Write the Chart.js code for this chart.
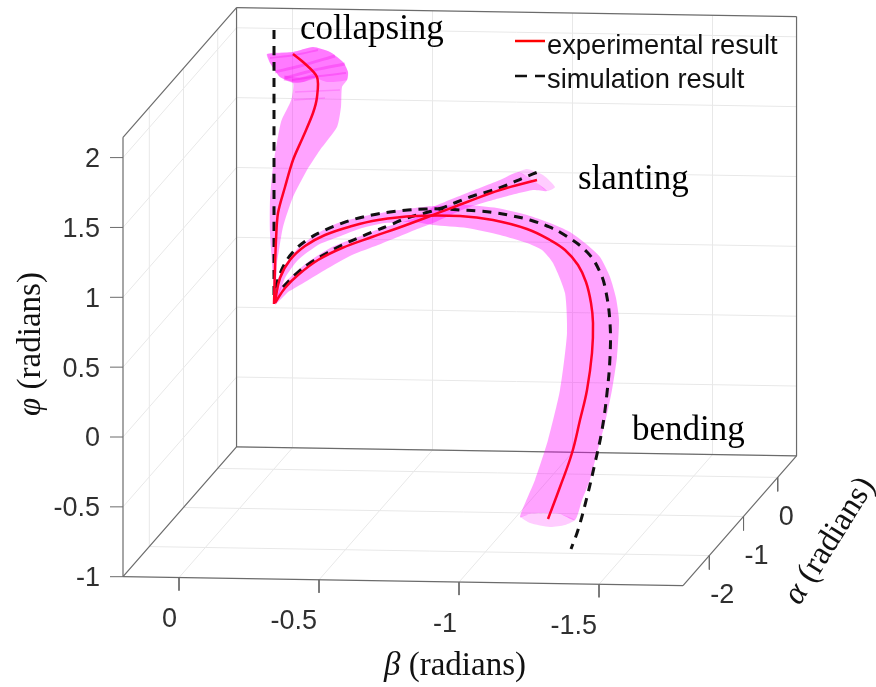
<!DOCTYPE html>
<html>
<head>
<meta charset="utf-8">
<style>
html, body { margin: 0; padding: 0; background: #fff; }
canvas { display: block; }
</style>
<script src="https://cdn.jsdelivr.net/npm/chart.js@4/dist/chart.umd.min.js"></script>
</head>
<body>
<canvas id="chart" width="876" height="687"></canvas>
<script>
// axis ticks in radians
const betaTicks = [0, -0.5, -1, -1.5];
const alphaTicks = [-2, -1, 0];
const phiTicks = [-1, -0.5, 0, 0.5, 1, 1.5, 2];
const betaRange = [0.2, -1.8];
const alphaRange = [-2.77, 0.55];
const phiRange = [-1, 2.145];

// curves, in view plane units (x right, y down)
const bendExpX = [275, 280, 290, 305, 325, 352, 378, 415, 460, 493, 527, 550, 565, 578, 586, 591, 593, 592, 587, 580, 572, 560, 548];
const bendExpY = [302, 278, 260, 246, 235, 226, 220, 216, 216, 220, 229, 240, 250, 265, 282, 303, 323, 353, 390, 420, 453, 487, 519];
const bendSimX = [275, 283, 293, 307, 323, 340, 355, 372, 390, 408, 425, 443, 460, 478, 497, 513, 530, 547, 563, 587, 600, 606, 610, 610, 607, 602, 595, 587, 578, 571];
const bendSimY = [288, 267, 252, 240, 231, 224, 219, 215, 212, 210, 209, 209, 210, 211, 213, 216, 220, 226, 234, 252, 272, 292, 323, 357, 393, 430, 463, 497, 530, 549];
const bendBandX = [275, 285, 298, 318, 338, 365, 392, 415, 433, 467, 497, 527, 550, 570, 585, 600, 610, 616, 619, 617, 612, 605, 597, 590, 582, 575, 560, 547, 530, 520, 535, 548, 560, 567, 565, 553, 542, 527, 500, 467, 433, 415, 385, 362, 338, 318, 298, 285, 277];
const bendBandY = [285, 265, 248, 233, 223, 216, 211, 208, 206, 205, 208, 215, 223, 232, 243, 257, 277, 298, 320, 357, 390, 423, 453, 480, 500, 520, 514, 513, 514, 517, 480, 440, 390, 333, 293, 263, 250, 243, 235, 228, 225, 222, 223, 228, 237, 245, 260, 278, 302];
const bendCapX = [520, 530, 550, 565, 575, 560, 547, 530];
const bendCapY = [517, 523, 527, 525, 520, 514, 513, 514];

const slantExpX = [275, 285, 298, 318, 342, 372, 398, 433, 467, 500, 537];
const slantExpY = [303, 288, 275, 260, 248, 237, 228, 215, 202, 190, 180];
const slantSimX = [283, 297, 310, 327, 342, 358, 375, 390, 407, 425, 442, 457, 473, 490, 507, 523, 543];
const slantSimY = [287, 273, 263, 253, 245, 238, 231, 225, 218, 213, 208, 202, 196, 191, 185, 178, 170];
const slantBandX = [275, 280, 295, 308, 332, 358, 382, 415, 433, 467, 500, 518, 528, 537, 547, 533, 500, 467, 433, 415, 378, 352, 325, 305, 288];
const slantBandY = [305, 288, 273, 262, 247, 237, 228, 218, 207, 193, 180, 172, 177, 183, 191, 190, 198, 208, 223, 230, 245, 255, 270, 282, 292];
const slantCapX = [518, 527, 543, 555, 547, 537, 528];
const slantCapY = [172, 169, 175, 187, 191, 183, 177];

const collapseExpX = [293, 303, 317, 317, 313, 303, 293, 285, 278, 276, 275, 274];
const collapseExpY = [54, 62, 77, 97, 113, 137, 160, 187, 213, 240, 267, 304];
const collapseSimX = [274, 274, 274, 274, 274];
const collapseSimY = [30, 100, 180, 250, 300];
const collapseBandX = [275, 270, 270, 273, 281, 290, 292, 293, 280, 270, 267, 293, 313, 330, 343, 348, 347, 342, 341, 337, 320, 307, 293, 283, 277];
const collapseBandY = [304, 233, 200, 167, 122, 103, 97, 83, 77, 63, 54, 52, 47, 52, 62, 72, 80, 87, 107, 127, 150, 170, 197, 227, 263];
const collapseHeadX = [267, 293, 313, 330, 343, 348, 347, 327, 315, 303, 293, 280, 270];
const collapseHeadY = [54, 52, 47, 52, 62, 72, 80, 82, 78, 82, 83, 77, 63];
const streakAX = [275, 300, 335];
const streakAY = [72, 66, 56];
const streakBX = [285, 315, 345];
const streakBY = [78, 70, 64];
const streakCX = [292, 320, 346];
const streakCY = [80, 76, 73];
const streakDX = [270, 295, 318];
const streakDY = [58, 55, 50];
const streakEX = [284, 300, 315];
const streakEY = [78, 80, 76];
const streakFX = [295, 318, 340];
const streakFY = [92, 91, 90];
const streakGX = [294, 310, 325];
const streakGY = [100, 99, 98];

// legend samples
const legendExpX = [515, 545];
const legendExpY = [41, 41];
const legendSimX = [515, 545];
const legendSimY = [76, 76];

function project(beta, alpha, phi) {
    return {
        x: 179 - 280 * beta + 34.2 * (alpha - alphaRange[0]),
        y: 577.6 - 4.5 * beta - 39.1 * (alpha - alphaRange[0]) - 139.7 * (phi + 1)
    };
}

function toPoints(xs, ys) {
    return xs.map((x, i) => ({ x: x, y: ys[i] }));
}

const datasets = [];

function addLine(points, color, width, extra) {
    datasets.push(Object.assign({
        data: points, borderColor: color, borderWidth: width, showLine: true,
        pointRadius: 0, fill: false, tension: 0
    }, extra || {}));
}

function addBand(xs, ys, color) {
    addLine(toPoints(xs, ys), 'rgba(0,0,0,0)', 0, { backgroundColor: color, fill: 'shape', tension: 0.2 });
}

const gridColor = '#e8e8e8';
const boxColor = '#6b6b6b';
const [bMin, bMax] = betaRange;
const [aMin, aMax] = alphaRange;
const [pMin, pMax] = phiRange;

// grid on the back wall, left wall and floor
betaTicks.forEach(b => {
    addLine([project(b, aMax, pMin), project(b, aMax, pMax)], gridColor, 1);
    addLine([project(b, aMin, pMin), project(b, aMax, pMin)], gridColor, 1);
});
alphaTicks.forEach(a => {
    addLine([project(bMin, a, pMin), project(bMin, a, pMax)], gridColor, 1);
    addLine([project(bMin, a, pMin), project(bMax, a, pMin)], gridColor, 1);
});
phiTicks.forEach(p => {
    addLine([project(bMin, aMax, p), project(bMax, aMax, p)], gridColor, 1);
    addLine([project(bMin, aMin, p), project(bMin, aMax, p)], gridColor, 1);
});

// box outline
[
    [[bMin, aMin, pMin], [bMin, aMin, pMax]],
    [[bMin, aMax, pMin], [bMin, aMax, pMax]],
    [[bMax, aMax, pMin], [bMax, aMax, pMax]],
    [[bMin, aMax, pMax], [bMax, aMax, pMax]],
    [[bMin, aMin, pMax], [bMin, aMax, pMax]],
    [[bMin, aMax, pMin], [bMax, aMax, pMin]],
    [[bMin, aMin, pMin], [bMax, aMin, pMin]],
    [[bMin, aMin, pMin], [bMin, aMax, pMin]],
    [[bMax, aMin, pMin], [bMax, aMax, pMin]]
].forEach(e => addLine([project(...e[0]), project(...e[1])], boxColor, 1.2));

// tick marks
phiTicks.forEach(p => {
    const t = project(bMin, aMin, p);
    addLine([t, { x: t.x - 13, y: t.y }], boxColor, 1);
});
betaTicks.forEach(b => {
    const t = project(b, aMin, pMin);
    addLine([t, { x: t.x, y: t.y + 13 }], boxColor, 1);
});
alphaTicks.forEach(a => {
    const t = project(bMax, a, pMin);
    addLine([t, { x: t.x, y: t.y + 14 }], boxColor, 1);
});

// magenta bands
const bandColor = 'rgba(255,0,255,0.36)';
const capColor = 'rgba(255,0,255,0.2)';
addBand(bendBandX, bendBandY, bandColor);
addBand(slantBandX, slantBandY, bandColor);
addBand(collapseBandX, collapseBandY, bandColor);
addBand(collapseHeadX, collapseHeadY, 'rgba(255,0,255,0.25)');
addBand(bendCapX, bendCapY, capColor);
addBand(slantCapX, slantCapY, capColor);
[[streakAX, streakAY, 3], [streakBX, streakBY, 3], [streakCX, streakCY, 2], [streakDX, streakDY, 2], [streakEX, streakEY, 5]].forEach(s => {
    addLine(toPoints(s[0], s[1]), 'rgba(245,0,235,0.28)', s[2], { tension: 0.3 });
});
[[streakFX, streakFY], [streakGX, streakGY]].forEach(s => {
    addLine(toPoints(s[0], s[1]), 'rgba(245,0,235,0.2)', 1.5, { tension: 0.3 });
});

// mean curves
const expColor = '#ff0028';
const simDash = { borderDash: [9, 7], tension: 0.4 };
addLine(toPoints(collapseSimX, collapseSimY), '#111', 3, simDash);
addLine(toPoints(bendSimX, bendSimY), '#111', 3, simDash);
addLine(toPoints(slantSimX, slantSimY), '#111', 3, simDash);
addLine(toPoints(bendExpX, bendExpY), expColor, 2.5, { tension: 0.4 });
addLine(toPoints(slantExpX, slantExpY), expColor, 2.5, { tension: 0.4 });
addLine(toPoints(collapseExpX, collapseExpY), expColor, 2.5, { tension: 0.3 });

// legend samples
addLine(toPoints(legendExpX, legendExpY), '#ff0000', 2.5);
addLine(toPoints(legendSimX, legendSimY), '#111', 2.5, { borderDash: [12, 8] });

datasets.forEach((d, i) => { d.order = datasets.length - i; });

const tickFont = '27px "Liberation Sans"';
const tickColor = '#303030';

// tick labels, annotations and axis titles
const textPlugin = {
    id: 'chartText',
    afterDatasetsDraw(chart) {
        const ctx = chart.ctx;
        const sx = chart.scales.x;
        const sy = chart.scales.y;
        const put = (text, x, y, font, color, align) => {
            ctx.font = font;
            ctx.fillStyle = color;
            ctx.textAlign = align || 'left';
            ctx.textBaseline = 'middle';
            ctx.fillText(text, sx.getPixelForValue(x), sy.getPixelForValue(y));
        };
        ctx.save();
        phiTicks.forEach(p => {
            const t = project(bMin, aMin, p);
            put(String(p), t.x - 23, t.y + 2, tickFont, tickColor, 'right');
        });
        betaTicks.forEach(b => {
            const t = project(b, aMin, pMin);
            put(String(b), t.x - 2, t.y + 42, tickFont, tickColor, 'right');
        });
        alphaTicks.forEach(a => {
            const t = project(bMax, a, pMin);
            put(String(a), t.x + 1, t.y + 40, tickFont, tickColor, 'left');
        });

        put('collapsing', 300, 30, '35px "Liberation Serif"', '#000');
        put('slanting', 578, 180, '35px "Liberation Serif"', '#000');
        put('bending', 632, 431, '35px "Liberation Serif"', '#000');
        put('experimental result', 547, 46, '27.3px "Liberation Sans"', '#111');
        put('simulation result', 547, 80, '27.3px "Liberation Sans"', '#111');

        // axis titles, greek letter in italics
        const title = (greek, x, y, angle) => {
            ctx.save();
            ctx.translate(sx.getPixelForValue(x), sy.getPixelForValue(y));
            ctx.rotate(angle);
            ctx.fillStyle = '#111';
            ctx.textBaseline = 'middle';
            ctx.textAlign = 'left';
            ctx.font = 'italic 33px "Liberation Serif"';
            const gw = ctx.measureText(greek + ' ').width;
            ctx.font = '33px "Liberation Serif"';
            const rest = '(radians)';
            const total = gw + ctx.measureText(rest).width;
            ctx.fillText(rest, gw - total / 2, 0);
            ctx.font = 'italic 33px "Liberation Serif"';
            ctx.fillText(greek, -total / 2, 0);
            ctx.restore();
        };
        title('β', 455, 666, 0);
        title('φ', 31, 344, -Math.PI / 2);
        title('α', 830, 541, -58 * Math.PI / 180);
        ctx.restore();
    }
};

new Chart(document.getElementById('chart'), {
    type: 'scatter',
    data: { datasets: datasets },
    options: {
        responsive: false,
        animation: false,
        layout: { padding: 0 },
        plugins: { legend: { display: false }, tooltip: { enabled: false } },
        scales: {
            x: { type: 'linear', min: 0, max: 876, display: false },
            y: { type: 'linear', min: 0, max: 687, reverse: true, display: false }
        }
    },
    plugins: [textPlugin]
});
</script>
</body>
</html>
